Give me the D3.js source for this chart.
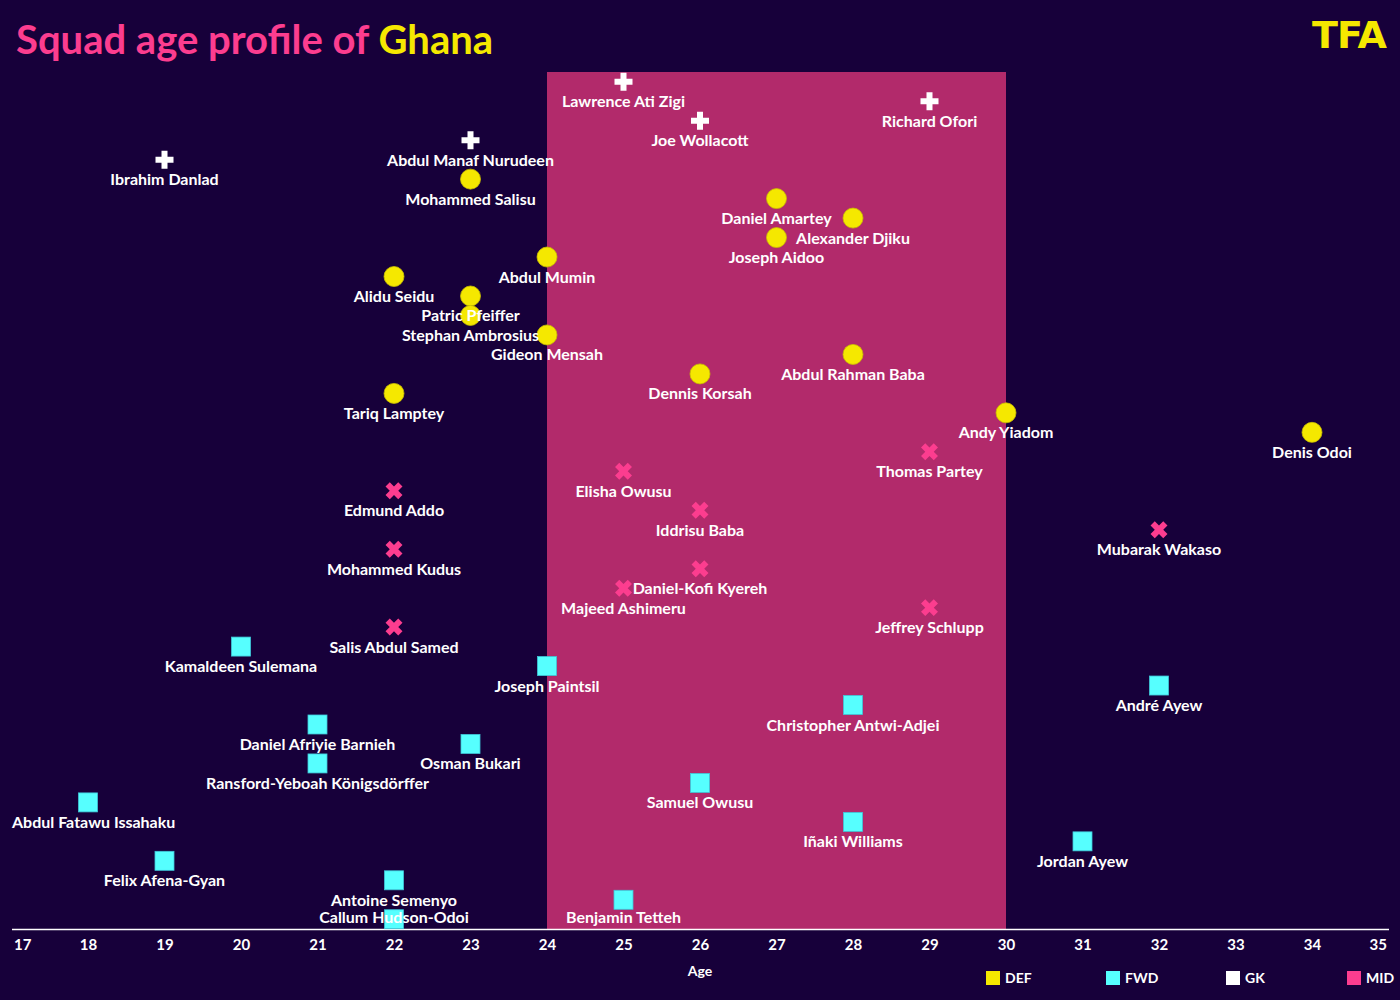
<!DOCTYPE html>
<html><head><meta charset="utf-8">
<script src="https://cdn.jsdelivr.net/npm/d3@7"></script>
<style>
html,body{margin:0;padding:0;background:#17003a;}
svg{display:block;}
text{font-family:"Lato","Open Sans",sans-serif;font-weight:700;}
</style></head>
<body>
<script>
const players = ["Lawrence Ati Zigi","Richard Ofori","Joe Wollacott","Abdul Manaf Nurudeen","Ibrahim Danlad",
"Mohammed Salisu","Daniel Amartey","Alexander Djiku","Joseph Aidoo","Abdul Mumin","Alidu Seidu","Patric Pfeiffer","Stephan Ambrosius","Gideon Mensah","Abdul Rahman Baba","Dennis Korsah","Tariq Lamptey","Andy Yiadom","Denis Odoi",
"Thomas Partey","Elisha Owusu","Edmund Addo","Iddrisu Baba","Mubarak Wakaso","Mohammed Kudus","Daniel-Kofi Kyereh","Majeed Ashimeru","Jeffrey Schlupp","Salis Abdul Samed",
"Kamaldeen Sulemana","Joseph Paintsil","André Ayew","Christopher Antwi-Adjei","Daniel Afriyie Barnieh","Osman Bukari","Ransford-Yeboah Königsdörffer","Samuel Owusu","Abdul Fatawu Issahaku","Iñaki Williams","Jordan Ayew","Felix Afena-Gyan","Antoine Semenyo","Benjamin Tetteh","Callum Hudson-Odoi"];
const ages = [25,29,26,23,19,
23,27,28,27,24,22,23,23,24,28,26,22,30,34,
29,25,22,26,32,22,26,25,29,22,
20,24,32,28,21,23,21,26,18,28,31,19,22,25,22];
const positions = ["GK","GK","GK","GK","GK",
"DEF","DEF","DEF","DEF","DEF","DEF","DEF","DEF","DEF","DEF","DEF","DEF","DEF","DEF",
"MID","MID","MID","MID","MID","MID","MID","MID","MID","MID",
"FWD","FWD","FWD","FWD","FWD","FWD","FWD","FWD","FWD","FWD","FWD","FWD","FWD","FWD","FWD"];
const legendCats = ["DEF","FWD","GK","MID"];
const ageTicks = d3.range(17,36);
const peakRange = [24,30];

const colors = {DEF:"#f5e800",FWD:"#56ffff",GK:"#ffffff",MID:"#fc3d8f"};
const W=1400,H=1000;
const svg=d3.select("body").append("svg").attr("width",W).attr("height",H);
svg.append("rect").attr("width",W).attr("height",H).attr("fill","#17003a");

const x=d3.scaleLinear().domain([17,35]).range([11.5,1388.5]);
const y=d3.scalePoint().domain(players).range([72,929]).padding(0.5);

// title
const t=svg.append("text").attr("x",16).attr("y",54).attr("font-size",40).style("font-weight",700);
t.append("tspan").attr("fill","#fc3d8f").text("Squad age profile of ");
t.append("tspan").attr("fill","#f5e800").text("Ghana");
// logo
svg.append("text").attr("x",1386).attr("y",48).attr("text-anchor","end").attr("font-size",38)
  .attr("fill","#f5e800").style("font-weight",900).style("font-family","'DejaVu Sans'").attr("letter-spacing",-1).text("TFA");

// peak band
svg.append("rect").attr("x",x(peakRange[0])).attr("y",72).attr("width",x(peakRange[1])-x(peakRange[0])).attr("height",929-72).attr("fill","#b22a6b");

// axis
const ax=svg.append("g").attr("transform","translate(0,929)").call(d3.axisBottom(x).tickValues(ageTicks).tickSize(0).tickPadding(10).tickFormat(d3.format("d")));
ax.select(".domain").attr("stroke","#ffffff").attr("stroke-width",1.5);
ax.selectAll("text").attr("fill","#ffffff").attr("font-size",15).style("font-weight",700).style("font-family","Lato");
ax.selectAll(".tick").filter(d=>d===17).select("text").attr("text-anchor","start").attr("dx",2);
ax.selectAll(".tick").filter(d=>d===35).select("text").attr("text-anchor","end").attr("dx",-2);
svg.append("text").attr("x",x(26)).attr("y",976).attr("text-anchor","middle").attr("fill","#fff").attr("font-size",14).text("Age");

const data=players.map((p,i)=>({name:p,age:ages[i],pos:positions[i]}));
const g=svg.append("g");
const plusPath="M-3,-9H3V-3H9V3H3V9H-3V3H-9V-3H-3Z";
function drawMarker(d){
  const cx=x(d.age), cy=y(d.name);
  if(d.pos==="DEF") g.append("circle").attr("cx",cx).attr("cy",cy).attr("r",10).attr("fill",colors.DEF).attr("stroke","#c9bf00").attr("stroke-width",0.8);
  else if(d.pos==="FWD") g.append("rect").attr("x",cx-9.5).attr("y",cy-9.5).attr("width",19).attr("height",19).attr("fill",colors.FWD).attr("stroke","#3fc6d8").attr("stroke-width",0.8);
  else if(d.pos==="GK") g.append("path").attr("d",plusPath).attr("transform",`translate(${cx},${cy})`).attr("fill",colors.GK);
  else g.append("path").attr("d",plusPath).attr("transform",`translate(${cx},${cy}) rotate(45)`).attr("fill",colors.MID);
}
data.forEach(drawMarker);
// labels: below each marker, kept inside the panel
const maxCenter = 917, minLeft = 12, maxRight = 1388;
data.forEach(d=>{
  const c=Math.min(y(d.name)+20, maxCenter);
  const tx=g.append("text").attr("x",x(d.age)).attr("y",c+5.5).attr("text-anchor","middle").attr("fill","#fff").attr("font-size",16).text(d.name);
  const w=tx.node().getComputedTextLength();
  let cx=x(d.age);
  if(cx-w/2<minLeft) cx=minLeft+w/2;
  if(cx+w/2>maxRight) cx=maxRight-w/2;
  tx.attr("x",cx);
});

// legend
const lx=[986,1106,1226,1347];
legendCats.forEach((c,i)=>{
  svg.append("rect").attr("x",lx[i]).attr("y",971).attr("width",14).attr("height",14).attr("fill",colors[c]);
  svg.append("text").attr("x",lx[i]+19).attr("y",983).attr("fill","#fff").attr("font-size",14).text(c);
});
</script>
</body></html>
